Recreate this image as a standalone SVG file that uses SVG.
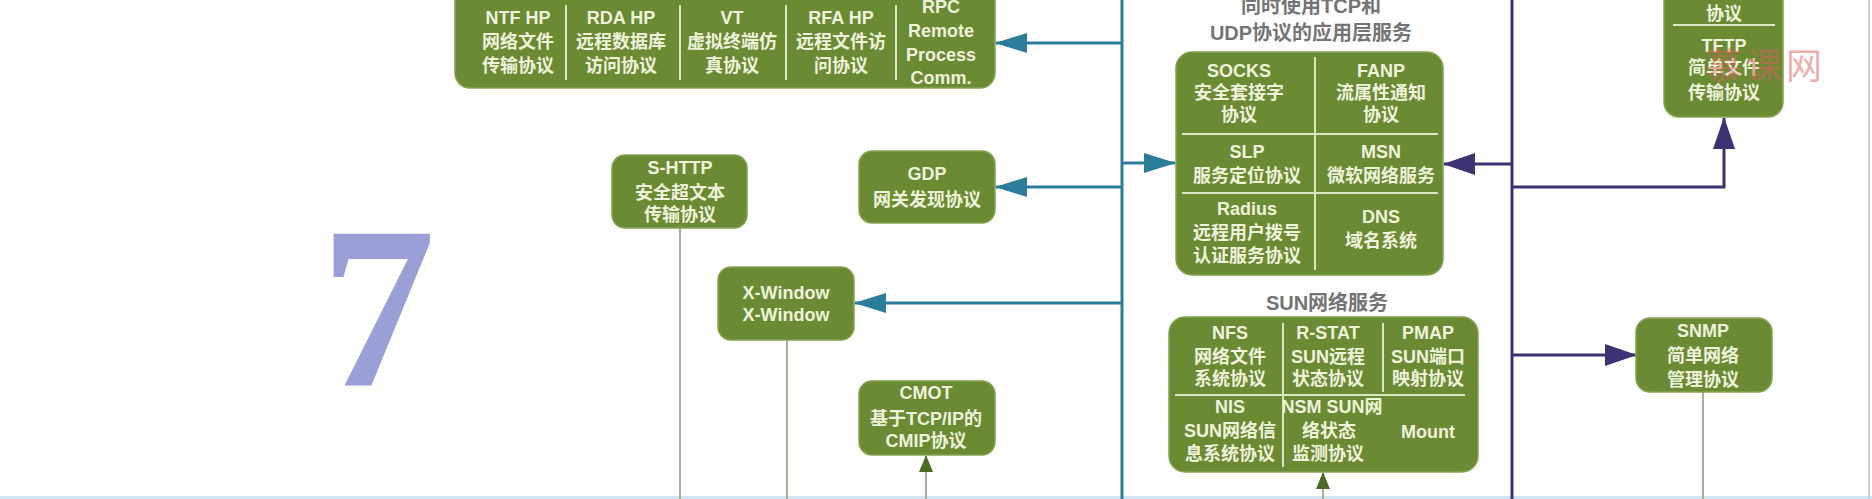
<svg xmlns="http://www.w3.org/2000/svg" width="1872" height="499" viewBox="0 0 1872 499">
<defs>
<style>
.box{fill:#6a8a33;stroke:#86a352;stroke-width:1.5}
.t{font-family:"Liberation Sans","Noto Sans CJK SC",sans-serif;font-weight:bold;font-size:18px;fill:#eef3dc;text-anchor:middle}
.dv{stroke:#dce6c4;stroke-width:2}
.title{font-family:"Liberation Sans","Noto Sans CJK SC",sans-serif;font-weight:bold;font-size:20px;fill:#747474;text-anchor:middle}
.teal{stroke:#2c7d9a;stroke-width:3;fill:none}
.purple{stroke:#3d3372;stroke-width:3;fill:none}
.grey{stroke:#a9ab9f;stroke-width:2;fill:none}
</style>
<marker id="aT" markerUnits="userSpaceOnUse" markerWidth="32" markerHeight="20" viewBox="0 0 32 20" refX="31" refY="10" orient="auto"><path d="M0,0 L32,10 L0,20 z" fill="#2c7d9a"/></marker>
<marker id="aP" markerUnits="userSpaceOnUse" markerWidth="32" markerHeight="22" viewBox="0 0 32 22" refX="31" refY="11" orient="auto"><path d="M0,0 L32,11 L0,22 z" fill="#3d3372"/></marker>
<marker id="aG" markerUnits="userSpaceOnUse" markerWidth="17" markerHeight="14" viewBox="0 0 17 14" refX="16" refY="7" orient="auto"><path d="M0,0 L17,7 L0,14 z" fill="#4b6a26"/></marker>
</defs>
<rect x="0" y="0" width="1872" height="499" fill="#ffffff"/>
<rect x="0" y="496" width="1872" height="3" fill="#cfe5f2"/>
<line x1="1869" y1="0" x2="1869" y2="499" stroke="#c8d0e0" stroke-width="2"/>

<g id="connectors">
<path class="teal" d="M1122,0 V499"/>
<path class="teal" d="M1122,43 H996" marker-end="url(#aT)"/>
<path class="teal" d="M1122,187 H996" marker-end="url(#aT)"/>
<path class="teal" d="M1122,303 H855" marker-end="url(#aT)"/>
<path class="teal" d="M1122,163 H1175" marker-end="url(#aT)"/>
<path class="purple" d="M1512,0 V499"/>
<path class="purple" d="M1512,164 H1444" marker-end="url(#aP)"/>
<path class="purple" d="M1512,187 H1724 V118" marker-end="url(#aP)"/>
<path class="purple" d="M1512,355 H1636" marker-end="url(#aP)"/>
<path class="grey" d="M680,228 V499"/>
<path class="grey" d="M787,340 V499"/>
<path class="grey" d="M1703,392 V499"/>
<path class="grey" d="M926,499 V456" marker-end="url(#aG)"/>
<path class="grey" d="M1323,499 V473" marker-end="url(#aG)"/>
</g>

<g id="layer-number">
<text x="378" y="385" font-family="Liberation Serif,serif" font-weight="bold" font-size="230" fill="#9a9fd6" text-anchor="middle">7</text>
</g>

<g id="node-top">
<rect class="box" x="455" y="-20" width="540" height="108" rx="15"/>
<line class="dv" x1="566" y1="5" x2="566" y2="80"/>
<line class="dv" x1="680" y1="5" x2="680" y2="80"/>
<line class="dv" x1="786" y1="5" x2="786" y2="80"/>
<line class="dv" x1="896" y1="5" x2="896" y2="80"/>
<text class="t" x="518" y="23.5">NTF HP</text>
<text class="t" x="518" y="47.5">网络文件</text>
<text class="t" x="518" y="71.5">传输协议</text>
<text class="t" x="621" y="23.5">RDA HP</text>
<text class="t" x="621" y="47.5">远程数据库</text>
<text class="t" x="621" y="71.5">访问协议</text>
<text class="t" x="732" y="23.5">VT</text>
<text class="t" x="732" y="47.5">虚拟终端仿</text>
<text class="t" x="732" y="71.5">真协议</text>
<text class="t" x="841" y="23.5">RFA HP</text>
<text class="t" x="841" y="47.5">远程文件访</text>
<text class="t" x="841" y="71.5">问协议</text>
<text class="t" x="941" y="12.5">RPC</text>
<text class="t" x="941" y="36.5">Remote</text>
<text class="t" x="941" y="60.5">Process</text>
<text class="t" x="941" y="84">Comm.</text>
</g>

<g id="node-shttp">
<rect class="box" x="612" y="155" width="135" height="73" rx="13"/>
<text class="t" x="680" y="173.5">S-HTTP</text>
<text class="t" x="680" y="198.5">安全超文本</text>
<text class="t" x="680" y="220.5">传输协议</text>
</g>

<g id="node-gdp">
<rect class="box" x="859" y="151" width="136" height="72" rx="13"/>
<text class="t" x="927" y="179.5">GDP</text>
<text class="t" x="927" y="205.5">网关发现协议</text>
</g>

<g id="node-xwindow">
<rect class="box" x="718" y="267" width="136" height="73" rx="13"/>
<text class="t" x="786" y="298.5">X-Window</text>
<text class="t" x="786" y="320.5">X-Window</text>
</g>

<g id="node-cmot">
<rect class="box" x="859" y="381" width="136" height="74" rx="13"/>
<text class="t" x="926" y="398.5">CMOT</text>
<text class="t" x="926" y="424.5">基于TCP/IP的</text>
<text class="t" x="926" y="446.5">CMIP协议</text>
</g>

<g id="node-tcpudp">
<text class="title" x="1311" y="12.5">同时使用TCP和</text>
<text class="title" x="1311" y="39.5">UDP协议的应用层服务</text>
<rect class="box" x="1176" y="52" width="267" height="223" rx="16"/>
<line class="dv" x1="1315" y1="57" x2="1315" y2="270"/>
<line class="dv" x1="1182" y1="134" x2="1438" y2="134"/>
<line class="dv" x1="1182" y1="193" x2="1438" y2="193"/>
<text class="t" x="1239" y="76.5">SOCKS</text>
<text class="t" x="1239" y="98.5">安全套接字</text>
<text class="t" x="1239" y="120.5">协议</text>
<text class="t" x="1381" y="76.5">FANP</text>
<text class="t" x="1381" y="98.5">流属性通知</text>
<text class="t" x="1381" y="120.5">协议</text>
<text class="t" x="1247" y="157.5">SLP</text>
<text class="t" x="1247" y="181.5">服务定位协议</text>
<text class="t" x="1381" y="157.5">MSN</text>
<text class="t" x="1381" y="181.5">微软网络服务</text>
<text class="t" x="1247" y="214.5">Radius</text>
<text class="t" x="1247" y="238.5">远程用户拨号</text>
<text class="t" x="1247" y="261.5">认证服务协议</text>
<text class="t" x="1381" y="222.5">DNS</text>
<text class="t" x="1381" y="246.5">域名系统</text>
</g>

<g id="node-sun">
<text class="title" x="1327" y="309.5">SUN网络服务</text>
<rect class="box" x="1169" y="317" width="309" height="155" rx="16"/>
<line class="dv" x1="1283" y1="323" x2="1283" y2="467"/>
<line class="dv" x1="1383" y1="323" x2="1383" y2="392"/>
<line class="dv" x1="1175" y1="395" x2="1465" y2="395"/>
<text class="t" x="1230" y="338.5">NFS</text>
<text class="t" x="1230" y="362.5">网络文件</text>
<text class="t" x="1230" y="384.5">系统协议</text>
<text class="t" x="1328" y="338.5">R-STAT</text>
<text class="t" x="1328" y="362.5">SUN远程</text>
<text class="t" x="1328" y="384.5">状态协议</text>
<text class="t" x="1428" y="338.5">PMAP</text>
<text class="t" x="1428" y="362.5">SUN端口</text>
<text class="t" x="1428" y="384.5">映射协议</text>
<text class="t" x="1230" y="412.5">NIS</text>
<text class="t" x="1230" y="436.5">SUN网络信</text>
<text class="t" x="1230" y="459.5">息系统协议</text>
<text class="t" x="1332" y="412.5">NSM SUN网</text>
<text class="t" x="1329" y="436.5">络状态</text>
<text class="t" x="1328" y="459.5">监测协议</text>
<text class="t" x="1428" y="437.5">Mount</text>
</g>

<g id="node-tftp">
<rect class="box" x="1664" y="-30" width="119" height="147" rx="15"/>
<line class="dv" x1="1673" y1="25" x2="1775" y2="25"/>
<text class="t" x="1724" y="19.5">协议</text>
<text class="t" x="1724" y="51.5">TFTP</text>
<text class="t" x="1724" y="73.5">简单文件</text>
<text class="t" x="1724" y="98.5">传输协议</text>
</g>

<g id="node-snmp">
<rect class="box" x="1636" y="318" width="136" height="74" rx="14"/>
<text class="t" x="1703" y="336.5">SNMP</text>
<text class="t" x="1703" y="361.5">简单网络</text>
<text class="t" x="1703" y="385.5">管理协议</text>
</g>

<g id="watermark" opacity="0.5">
<text x="1706" y="79" font-family="Noto Sans CJK SC,sans-serif" font-size="36" letter-spacing="4" fill="#e06060">慕课网</text>
</g>
</svg>
